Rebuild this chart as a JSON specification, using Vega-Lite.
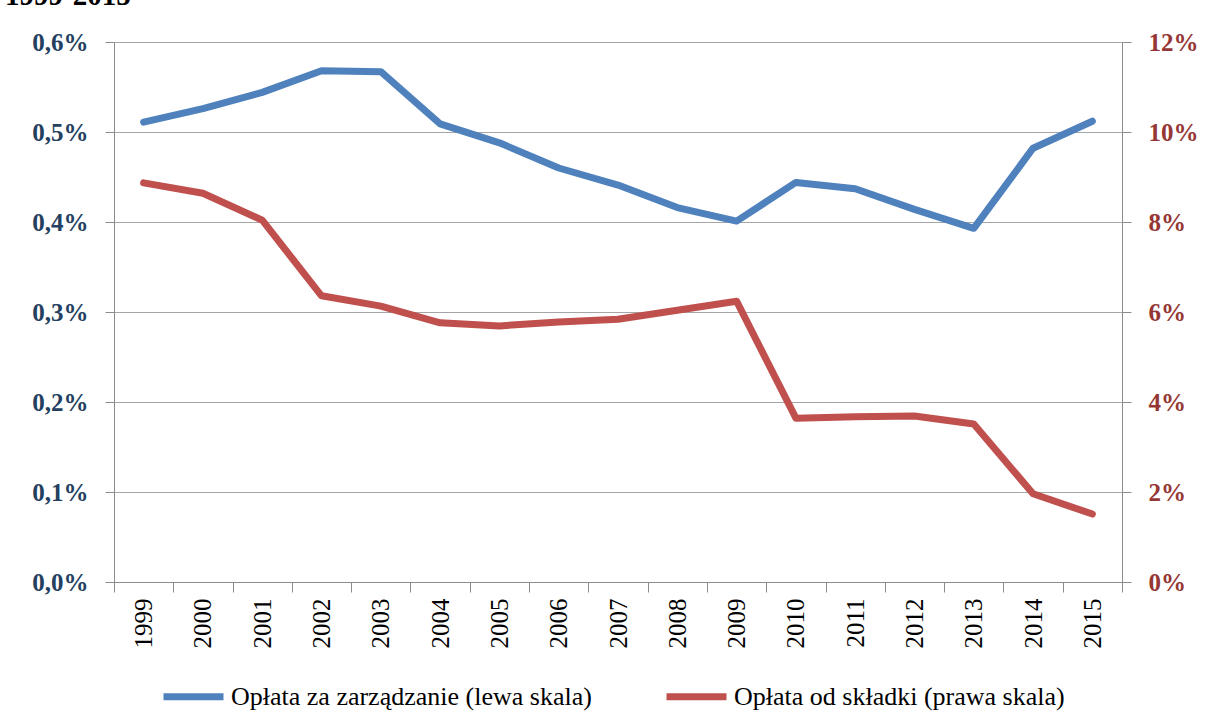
{
  "$schema": "https://vega.github.io/schema/vega-lite/v6.json",
  "width": 1008,
  "height": 540,
  "autosize": {"type": "none"},
  "padding": {"left": 114, "top": 42, "right": 86, "bottom": 145},
  "background": "white",
  "title": {"text": "1999-2015", "anchor": "start", "frame": "group", "font": "Liberation Serif", "fontSize": 29, "fontWeight": "bold", "color": "black", "dx": -109, "dy": 15, "offset": 11, "baseline": "alphabetic"},
  "data": {"values": [
    {"year": "1999", "mgmt": 0.511, "contrib": 8.87},
    {"year": "2000", "mgmt": 0.526, "contrib": 8.64},
    {"year": "2001", "mgmt": 0.544, "contrib": 8.04},
    {"year": "2002", "mgmt": 0.568, "contrib": 6.36},
    {"year": "2003", "mgmt": 0.567, "contrib": 6.13},
    {"year": "2004", "mgmt": 0.509, "contrib": 5.76},
    {"year": "2005", "mgmt": 0.488, "contrib": 5.69},
    {"year": "2006", "mgmt": 0.460, "contrib": 5.78},
    {"year": "2007", "mgmt": 0.441, "contrib": 5.84},
    {"year": "2008", "mgmt": 0.416, "contrib": 6.04},
    {"year": "2009", "mgmt": 0.401, "contrib": 6.24},
    {"year": "2010", "mgmt": 0.444, "contrib": 3.64},
    {"year": "2011", "mgmt": 0.437, "contrib": 3.67},
    {"year": "2012", "mgmt": 0.414, "contrib": 3.69},
    {"year": "2013", "mgmt": 0.393, "contrib": 3.51},
    {"year": "2014", "mgmt": 0.482, "contrib": 1.96},
    {"year": "2015", "mgmt": 0.512, "contrib": 1.51}
  ]},
  "config": {
    "view": {"stroke": "#8c8c8c", "strokeWidth": 1},
    "axis": {"domainColor": "#8c8c8c", "tickColor": "#8c8c8c", "gridColor": "#a6a6a6", "labelFont": "Liberation Serif", "labelFontSize": 25, "title": null}
  },
  "encoding": {
    "x": {"field": "year", "type": "ordinal", "bandPosition": 0.5,
      "scale": {"type": "band", "paddingInner": 0, "paddingOuter": 0},
      "axis": {"title": null, "labelAngle": 270, "labelAlign": "right", "labelBaseline": "middle", "labelColor": "black", "labelPadding": 6, "tickSize": 10, "tickBand": "extent", "grid": false}}
  },
  "layer": [
    {
      "mark": {"type": "line", "strokeWidth": 7, "strokeCap": "round", "strokeJoin": "round"},
      "encoding": {
        "y": {"field": "mgmt", "type": "quantitative", "scale": {"domain": [0, 0.6], "nice": false},
          "axis": {"orient": "left", "title": null, "values": [0, 0.1, 0.2, 0.3, 0.4, 0.5, 0.6], "labelExpr": "replace(format(datum.value, '.1f'), '.', ',') + '%'", "labelFontWeight": "bold", "labelColor": "#243F60", "tickSize": 9, "labelPadding": 17, "grid": true}},
        "color": {"datum": "Opłata za zarządzanie (lewa skala)", "type": "nominal",
          "scale": {"domain": ["Opłata za zarządzanie (lewa skala)", "Opłata od składki (prawa skala)"], "range": ["#4F81BD", "#C0504D"]},
          "legend": {"title": null, "orient": "none", "legendX": 46, "legendY": 621, "direction": "horizontal", "symbolType": "stroke", "symbolStrokeWidth": 7, "symbolSize": 3600, "labelFont": "Liberation Serif", "labelFontSize": 26, "labelColor": "black", "labelLimit": 0, "labelOffset": 4, "columnPadding": 60}}
      }
    },
    {
      "mark": {"type": "line", "strokeWidth": 7, "strokeCap": "round", "strokeJoin": "round"},
      "encoding": {
        "y": {"field": "contrib", "type": "quantitative", "scale": {"domain": [0, 12], "nice": false},
          "axis": {"orient": "right", "title": null, "values": [0, 2, 4, 6, 8, 10, 12], "labelExpr": "format(datum.value, '.0f') + '%'", "labelFontWeight": "bold", "labelColor": "#953735", "tickSize": 9, "labelPadding": 17, "grid": false}},
        "color": {"datum": "Opłata od składki (prawa skala)", "type": "nominal"}
      }
    }
  ],
  "resolve": {"scale": {"y": "independent"}}
}
